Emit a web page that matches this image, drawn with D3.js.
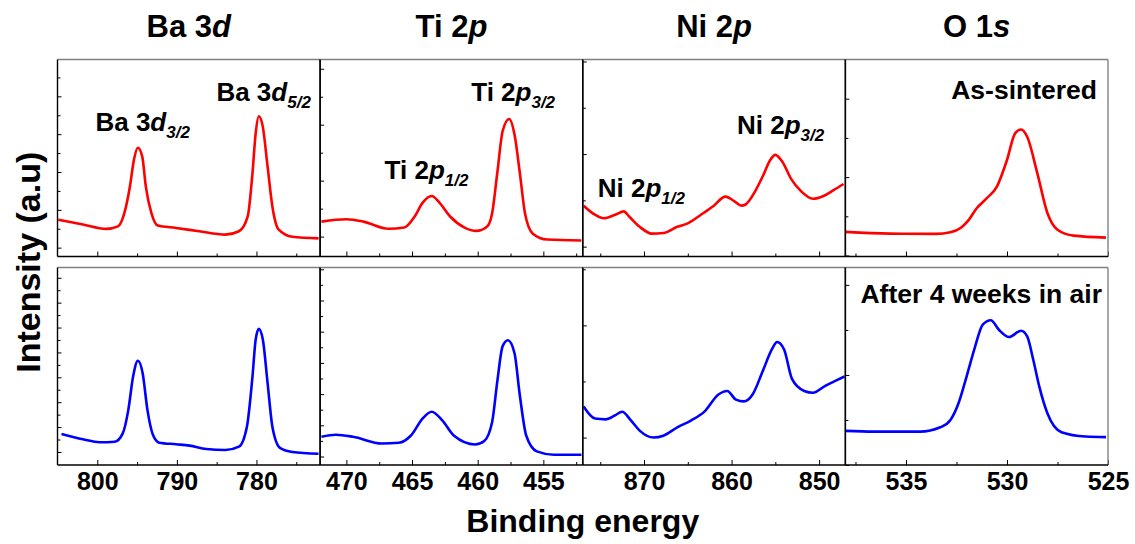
<!DOCTYPE html>
<html>
<head>
<meta charset="utf-8">
<script src="https://cdn.jsdelivr.net/npm/d3@7"></script>
<style>
  body { margin: 0; background: #fff; }
  text { font-family: "Liberation Sans", Arial, sans-serif; font-weight: bold; fill: #000; }
</style>
</head>
<body>
<div id="chart"></div>
<script>
// XPS core levels, binding energy (eV) vs intensity (a.u., 0-100 per panel)
const panelNames = ["Ba 3d", "Ti 2p", "Ni 2p", "O 1s"];
const energyDomains = [[805, 772], [472, 452], [877, 847], [538, 525]];
const majorTicks = [[800, 790, 780], [470, 465, 460, 455], [870, 860, 850], [535, 530, 525]];
const minorTicks = [[795, 785, 775], [467.5, 462.5, 457.5, 452.5], [875, 865, 855], [537.5, 532.5, 527.5]];
const rowNames = ["As-sintered", "After 4 weeks in air"];

// y tick layout (start, step) per panel, unlabeled
const yTicksTop = [[4.5, 9.6], [10.1, 14.2], [5, 23.5], [0.5, 19.9]];
const yTicksBottom = [[6.6, 6.3], [4.3, 7.9], [13.9, 28.4], [0, 22.8]];

const baAsSintered = [
  [804.9, 18.7], [801.8, 16.2], [798.9, 14], [797.4, 15.3], [796.6, 22], [795.9, 35.5],
  [795.4, 49], [794.9, 55.2], [794.35, 50.7], [793.9, 35.5], [793.2, 22], [792.4, 15.7],
  [790.1, 14.5], [787.2, 12.8], [783.9, 11.1], [782.2, 12.8], [781.1, 20.4], [780.5, 42.3],
  [780.1, 62.5], [779.7, 71.2], [779.2, 65.8], [778.6, 45.6], [778, 25.4], [777.2, 13.6],
  [775.5, 10], [772.2, 9.2]
];
const baAged = [
  [804.5, 15.7], [801.8, 13], [799.7, 11.5], [797.8, 11.8], [796.8, 16], [796.1, 27.9],
  [795.5, 44.8], [794.9, 52.8], [794.3, 46.5], [793.7, 27.9], [793, 15.2], [792.2, 11.3],
  [790.1, 10.5], [788.4, 9.8], [786.3, 8.1], [783.9, 7.6], [782.2, 9.3], [781.2, 19.4],
  [780.5, 44.8], [780.1, 63.5], [779.7, 68.9], [779.2, 63.5], [778.6, 41.5], [778, 19.4],
  [777, 8.5], [775.5, 6.6], [772.2, 5.7]
];
const tiAsSintered = [
  [471.9, 17.7], [470, 18.9], [468.7, 17.7], [466.8, 14.1], [465.6, 14.7], [464.8, 20.3],
  [464.2, 27.2], [463.5, 30.7], [462.9, 27.2], [462.1, 20.3], [461, 14.7], [460.1, 13],
  [459.3, 15.1], [458.9, 22], [458.5, 42.9], [458.1, 63.7], [457.6, 69.8], [457.2, 62],
  [456.8, 42.9], [456.4, 22], [455.8, 11.6], [454.7, 8.6], [452.1, 8.1]
];
const tiAged = [
  [471.9, 14.3], [470.8, 15.3], [469.5, 14.3], [467.3, 10.9], [466, 11.3], [465.1, 14.8],
  [464.2, 23.5], [463.5, 27], [462.7, 22.6], [461.8, 14.8], [460.2, 10.4], [459.5, 12.2],
  [458.9, 21.8], [458.5, 42.7], [458.1, 60.2], [457.7, 63.2], [457.2, 56.7], [456.8, 35.7],
  [456.3, 14.8], [455.5, 6.9], [454.2, 5.2], [452.1, 5.2]
];
const niAsSintered = [
  [876.9, 25.8], [875.6, 21.2], [874.6, 19.4], [873.3, 21.2], [872.3, 22.9], [871.7, 20.3],
  [870.5, 15.1], [869.1, 11.6], [867.8, 11.9], [866.2, 15.1], [865, 16.8], [863.5, 21.2],
  [862.1, 25.5], [860.7, 30.4], [859.7, 28.1], [858.9, 25.8], [858.4, 26.4], [857.4, 32.4],
  [856.4, 41.1], [855.6, 48.9], [855, 51.6], [854.2, 48.1], [853.2, 39.4], [852.1, 33.3],
  [850.7, 29.3], [849.5, 30.7], [848.3, 33.8], [847.2, 36.8]
];
const niAged = [
  [876.9, 29.6], [875.6, 23.5], [874.4, 23.1], [873.3, 25.2], [872.5, 27], [871.5, 22.6],
  [870.5, 17.4], [868.9, 13.9], [867.8, 14.8], [866.2, 19.1], [864.6, 22.6], [863.1, 27],
  [861.5, 35.7], [860.5, 37.5], [859.5, 33.1], [858.6, 32.2], [857.6, 35.7], [856.4, 48],
  [855.4, 58.5], [854.8, 62.3], [854, 58.5], [853.1, 43.6], [851.7, 37.5], [850.7, 36.6],
  [849.3, 40.1], [848.1, 42.7], [847.1, 44.8]
];
const oAsSintered = [
  [538, 12.5], [535.8, 11.6], [533.5, 11.5], [532.8, 12.3], [532.3, 14.5], [531.9, 18.5],
  [531.5, 24.5], [531, 29.6], [530.5, 35.5], [530, 49], [529.6, 62.5], [529.3, 64.5], [529, 60.8],
  [528.5, 42.3], [528, 22.1], [527.5, 13.6], [526.7, 10.6], [525.1, 9.6]
];
const oAged = [
  [538, 17.3], [536.6, 16.9], [534.3, 16.9], [533.3, 19.1], [532.8, 22.8], [532.4, 31.3],
  [532, 44.8], [531.6, 59.2], [531.2, 71.1], [530.8, 73.3], [530.4, 68.5], [529.9, 64.8],
  [529.3, 68], [529, 65.1], [528.7, 53.3], [528.4, 39.7], [528, 26.2], [527.3, 16.6],
  [526.1, 14.4], [525.1, 14.1]
];

const series = [
  [baAsSintered, tiAsSintered, niAsSintered, oAsSintered],
  [baAged, tiAged, niAged, oAged]
];
const rowColors = ["#ff0000", "#0000ff"];

// peak labels: [panel, energy, intensity, main, italic, subscript]
const peakLabels = [
  [0, 794.3, 63.5, "Ba 3", "d", "3/2"],
  [0, 779.1, 79, "Ba 3", "d", "5/2"],
  [1, 463.9, 39.5, "Ti 2", "p", "1/2"],
  [1, 457.3, 79, "Ti 2", "p", "3/2"],
  [2, 870.3, 30.3, "Ni 2", "p", "1/2"],
  [2, 854.4, 62, "Ni 2", "p", "3/2"]
];

const width = 1135, height = 544;
const left = 57.5, right = 1108;
const rows = [[59.5, 256.5], [267.5, 465]];
const panelW = (right - left) / 4;

const svg = d3.select("#chart").append("svg")
  .attr("width", width)
  .attr("height", height);

const xScales = energyDomains.map((dom, i) =>
  d3.scaleLinear().domain(dom).range([left + i * panelW, left + (i + 1) * panelW]));
const yScales = rows.map(r => d3.scaleLinear().domain([0, 100]).range([r[1], r[0]]));

rows.forEach((r, ri) => {
  const y = yScales[ri];
  const yt = ri === 0 ? yTicksTop : yTicksBottom;
  xScales.forEach((x, pi) => {
    const g = svg.append("g");
    const [x0, x1] = x.range();

    // data line
    g.append("path")
      .datum(series[ri][pi])
      .attr("fill", "none")
      .attr("stroke", rowColors[ri])
      .attr("stroke-width", 2.6)
      .attr("stroke-linejoin", "round")
      .attr("d", d3.line()
        .x(d => x(d[0]))
        .y(d => y(d[1]))
        .curve(d3.curveMonotoneX));

    // x axis ticks (inside)
    const xa = g.append("g").attr("transform", `translate(0,${r[1]})`)
      .call(d3.axisBottom(x).tickValues(majorTicks[pi]).tickSize(-5).tickPadding(7)
        .tickFormat(ri === 1 ? d3.format("d") : ""));
    xa.select(".domain").remove();
    xa.selectAll("text").style("font-size", "25px").style("font-family", null);
    const xm = g.append("g").attr("transform", `translate(0,${r[1]})`)
      .call(d3.axisBottom(x).tickValues(minorTicks[pi]).tickSize(-3).tickFormat(""));
    xm.select(".domain").remove();

    // y axis ticks (inside, unlabeled)
    const [s, step] = yt[pi];
    const yv = d3.range(s, 100, step);
    const ya = g.append("g").attr("transform", `translate(${x0},0)`)
      .call(d3.axisLeft(y).tickValues(yv).tickSize(-4).tickFormat(""));
    ya.select(".domain").remove();
    ya.selectAll(".tick line").attr("x2", (d, i) => (i % 2 === 0 ? 4 : 3));

    // frame
    g.append("line").attr("x1", x0).attr("x2", x1).attr("y1", r[0]).attr("y2", r[0])
      .attr("stroke", "#808080").attr("stroke-width", 1.6);
    g.append("line").attr("x1", x1).attr("x2", x1).attr("y1", r[0]).attr("y2", r[1])
      .attr("stroke", pi === 3 ? "#808080" : "#000").attr("stroke-width", 1.4);
    g.append("line").attr("x1", x0).attr("x2", x1).attr("y1", r[1]).attr("y2", r[1])
      .attr("stroke", "#000").attr("stroke-width", 1.4);
    g.append("line").attr("x1", x0).attr("x2", x0).attr("y1", r[0]).attr("y2", r[1])
      .attr("stroke", "#000").attr("stroke-width", 1.4);
  });
});

// panel titles
panelNames.forEach((name, i) => {
  const [x0, x1] = xScales[i].range();
  const parts = name.split(" ");
  const t = svg.append("text")
    .attr("x", (x0 + x1) / 2)
    .attr("y", 37)
    .attr("text-anchor", "middle")
    .style("font-size", "31px");
  t.append("tspan").text(parts[0] + " " + parts[1].replace(/[a-z]$/, ""));
  t.append("tspan").style("font-style", "italic").text(parts[1].slice(-1));
});

// peak labels
peakLabels.forEach(([pi, e, v, main, it, sub]) => {
  const t = svg.append("text")
    .attr("x", xScales[pi](e))
    .attr("y", yScales[0](v))
    .attr("text-anchor", "middle")
    .style("font-size", "26px");
  t.append("tspan").text(main);
  t.append("tspan").style("font-style", "italic").text(it);
  t.append("tspan").attr("dy", 7).style("font-size", "17px").style("font-style", "italic").text(sub);
});

// row labels in O 1s panel
svg.append("text")
  .attr("x", xScales[3].range()[1] - 11)
  .attr("y", yScales[0](80))
  .attr("text-anchor", "end")
  .style("font-size", "26.5px")
  .text(rowNames[0]);
svg.append("text")
  .attr("x", xScales[3].range()[1] - 6)
  .attr("y", yScales[1](82))
  .attr("text-anchor", "end")
  .style("font-size", "26.5px")
  .text(rowNames[1]);

// axis titles
svg.append("text")
  .attr("x", (left + right) / 2)
  .attr("y", 532)
  .attr("text-anchor", "middle")
  .style("font-size", "32px")
  .text("Binding energy");
svg.append("text")
  .attr("transform", `translate(40,${(rows[0][0] + rows[1][1]) / 2}) rotate(-90)`)
  .attr("text-anchor", "middle")
  .style("font-size", "34px")
  .text("Intensity (a.u)");
</script>
</body>
</html>
